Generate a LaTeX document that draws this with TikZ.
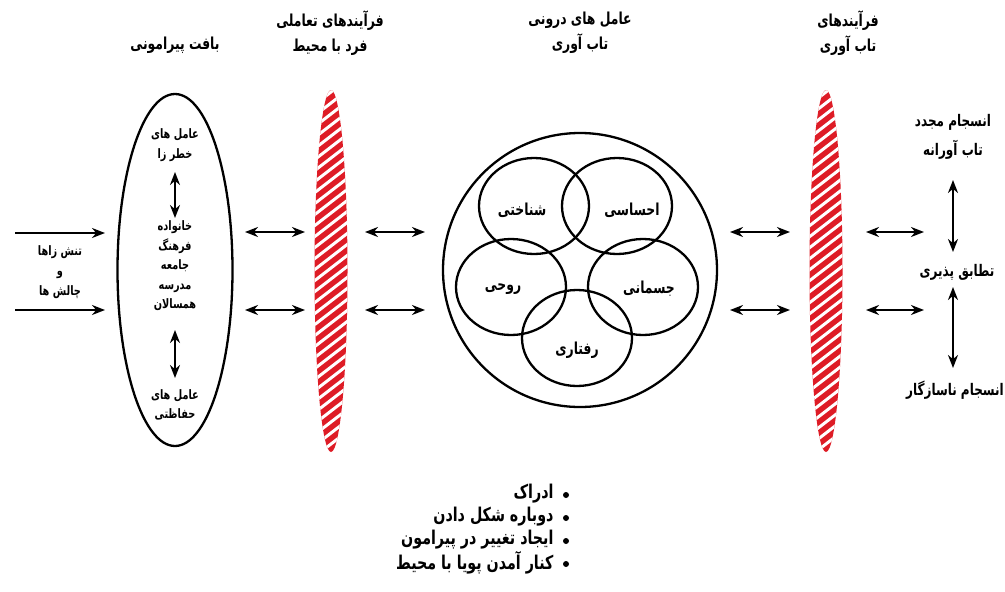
\documentclass[tikz,border=0pt]{standalone}
\usepackage{fontspec}
\usetikzlibrary{arrows.meta,shapes.geometric}
\TeXXeTstate=1
\newfontfamily\fa[Script=Arabic,FakeStretch=0.75]{DejaVu Sans}
\newcommand{\rl}[1]{\beginR #1\endR}
\definecolor{hatred}{RGB}{222,28,38}
\begin{document}
\begin{tikzpicture}[x=1pt,y=-1pt,
  lw/.style={line width=2.3pt},
  darr/.style={line width=2.3pt,{Stealth[length=13pt,width=10pt]}-{Stealth[length=13pt,width=10pt]}},
  arr/.style={line width=2.3pt,-{Stealth[length=13pt,width=10pt]}},
  hd/.style={font=\fa\bfseries\fontsize{16.5}{25}\selectfont,align=center},
  sm/.style={font=\fa\bfseries\fontsize{13}{19.5}\selectfont,align=center},
  md/.style={font=\fa\bfseries\fontsize{13}{20}\selectfont,align=center},
  lb/.style={font=\fa\bfseries\fontsize{16.5}{18}\selectfont},
  rt/.style={font=\fa\bfseries\fontsize{16}{29}\selectfont,align=center},
  bl/.style={font=\fa\bfseries\fontsize{19}{20}\selectfont,anchor=east},
  circ/.style={draw,ellipse,lw,minimum width=110pt,minimum height=96pt},
  hatch/.style={ellipse,minimum width=33pt,minimum height=362pt}]
\useasboundingbox (0,0) rectangle (1005,592);

% headers
\node[hd] (h1) at (175,45) {\rl{بافت پیرامونی}};
\node[hd] (h2) at (330,33) {\rl{فرآیندهای تعاملی}\\\rl{فرد با محیط}};
\node[hd] (h3) at (580,33) {\rl{عامل های درونی}\\\rl{تاب آوری}};
\node[hd] (h4) at (848,33) {\rl{فرآیندهای}\\\rl{تاب آوری}};

% left ellipse
\node[draw,ellipse,lw,minimum width=115pt,minimum height=352pt] (env) at (175,270) {};
\node[sm] (risk) at (175,145) {\rl{عامل های}\\\rl{خطر زا}};
\node[sm] (ctx) at (175,266) {\rl{خانواده}\\\rl{فرهنگ}\\\rl{جامعه}\\\rl{مدرسه}\\\rl{همسالان}};
\node[sm] (prot) at (175,405) {\rl{عامل های}\\\rl{حفاظتی}};
\coordinate (ra) at (175,172);
\coordinate (rb) at (175,218);
\coordinate (pa) at (175,330);
\coordinate (pb) at (175,378);
\draw[darr] (ra) -- (rb);
\draw[darr] (pa) -- (pb);

% left input
\node[md] (inp) at (60,272) {\rl{تنش زاها}\\\rl{و}\\\rl{چالش ها}};
\coordinate (i1a) at (15,233); \coordinate (i1b) at (105,233);
\coordinate (i2a) at (15,310); \coordinate (i2b) at (105,310);
\draw[arr] (i1a) -- (i1b);
\draw[arr] (i2a) -- (i2b);

% hatched ellipses
\foreach \nm/\cx in {hA/331,hB/826}{
  \node[hatch] (\nm) at (\cx,271) {};
  \begin{scope}
    \clip (\cx,271) ellipse [x radius=16.5, y radius=181];
    \fill[hatred] (\cx-20,85) rectangle (\cx+20,460);
    \foreach \y in {70,81,...,480}
      \draw[white,line width=3pt] (\cx-22,\y+17) -- (\cx+22,\y-17);
  \end{scope}
}

% big circle
\node[draw,circle,lw,minimum size=274pt] (big) at (580,270) {};
\node[circ] (c1) at (534,206) {};
\node[circ] (c2) at (617,206) {};
\node[circ] (c3) at (511,287) {};
\node[circ] (c4) at (643,287) {};
\node[circ] (c5) at (577,338) {};
\node[lb] (t1) at (522,210) {\rl{شناختی}};
\node[lb] (t2) at (632,210) {\rl{احساسی}};
\node[lb] (t3) at (503,289) {\rl{روحی}};
\node[lb] (t4) at (649,289) {\rl{جسمانی}};
\node[lb] (t5) at (577,350) {\rl{رفتاری}};

% double arrows between elements
\foreach \a/\b/\n in {245/305/a,365/425/b,730/790/c,866/924/d}{
  \coordinate (\n1s) at (\a,232); \coordinate (\n1e) at (\b,232);
  \coordinate (\n2s) at (\a,310); \coordinate (\n2e) at (\b,310);
  \draw[darr] (\n1s) -- (\n1e);
  \draw[darr] (\n2s) -- (\n2e);
}

% right outcomes
\node[rt] (o1) at (953,137) {\rl{انسجام مجدد}\\\rl{تاب آورانه}};
\node[rt] (o2) at (957,272) {\rl{تطابق پذیری}};
\node[rt] (o3) at (955,390) {\rl{انسجام ناسازگار}};
\coordinate (v1a) at (953,180); \coordinate (v1b) at (953,252);
\coordinate (v2a) at (953,287); \coordinate (v2b) at (953,368);
\draw[darr] (v1a) -- (v1b);
\draw[darr] (v2a) -- (v2b);

% bullet list
\foreach \y/\t/\n in {494/ادراک/b1,517/دوباره شکل دادن/b2,540/ایجاد تغییر در پیرامون/b3,563/کنار آمدن پویا با محیط/b4}{
  \node[bl] (\n) at (557,\y) {\rl{\t}};
  \fill (566,\y+1) circle (3pt);
}
\end{tikzpicture}
\end{document}
